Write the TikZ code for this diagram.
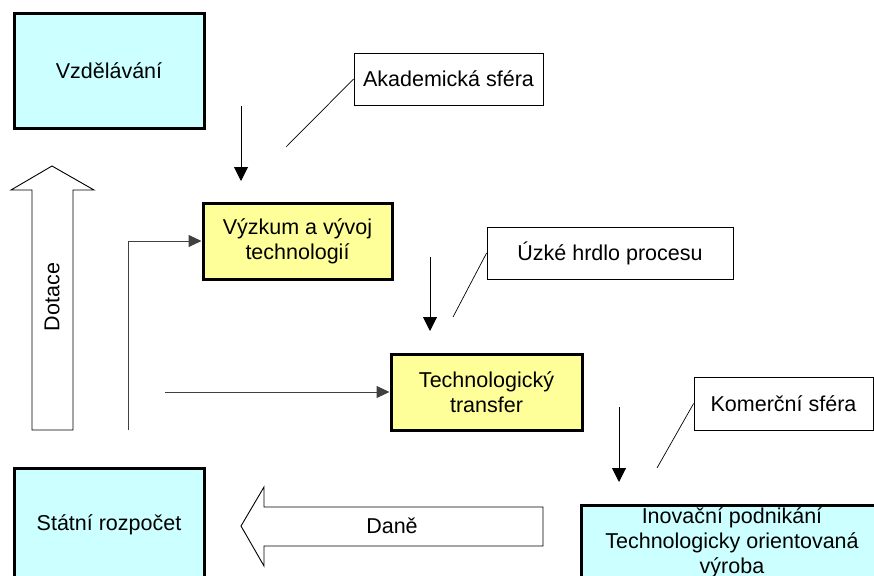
\documentclass[tikz,border=0pt]{standalone}
\usepackage{fontspec}
\setmainfont{Liberation Sans}
\usetikzlibrary{arrows.meta}
\definecolor{boxcyan}{HTML}{CCFFFF}
\definecolor{boxyellow}{HTML}{FFFF99}
\begin{document}
\begin{tikzpicture}[x=1pt,y=-1pt,
  every node/.style={font=\fontsize{21.5}{25}\selectfont, align=center, inner sep=0pt},
  mainbox/.style={draw=black, line width=3pt, rectangle},
  cyanbox/.style={mainbox, fill=boxcyan},
  yellowbox/.style={mainbox, fill=boxyellow},
  notebox/.style={draw=black, line width=0.8pt, fill=white, rectangle},
  flow/.style={line width=1pt, -{Triangle[length=14pt,width=14pt]}},
  feed/.style={line width=1pt, draw=black!75, -{Triangle[length=13pt,width=12pt]}},
  callout/.style={line width=0.7pt},
  bigarrow/.style={draw=black, line width=0.9pt, fill=white, line join=miter}
]
\useasboundingbox (0,0) rectangle (874,575);

% main boxes
\node[cyanbox, minimum width=190pt, minimum height=114pt] (vzdel) at (109,71) {Vzdělávání};
\node[yellowbox, minimum width=189pt, minimum height=76pt] (vyzkum) at (297.5,241) {Výzkum a vývoj\\technologií};
\node[yellowbox, minimum width=191pt, minimum height=76pt] (transfer) at (486.5,392) {Technologický\\transfer};
\node[cyanbox, minimum width=190pt, minimum height=114pt] (rozpocet) at (109,525) {Státní rozpočet};
\node[cyanbox, minimum width=302pt, minimum height=76pt] (inovace) at (732,543) {Inovační podnikání\\Technologicky orientovaná\\výroba};

% note boxes
\node[notebox, minimum width=189pt, minimum height=52pt] (akad) at (448.5,79) {Akademická sféra};
\node[notebox, minimum width=246pt, minimum height=52pt] (uzke) at (610,253) {Úzké hrdlo procesu};
\node[notebox, minimum width=179pt, minimum height=53pt] (komer) at (783.5,403.5) {Komerční sféra};

% block arrow: Dotace
\draw[bigarrow] (52,166) -- (94,190) -- (73,190) -- (73,430) -- (32,430) -- (32,190) -- (11,190) -- cycle;
\node[rotate=90] (dotace) at (52,297) {Dotace};

% block arrow: Daně
\draw[bigarrow] (241,526) -- (264,487) -- (264,507) -- (543,507) -- (543,546) -- (264,546) -- (264,566) -- cycle;
\node (dane) at (392,526) {Daně};

% feed lines from the Dotace side
\coordinate (feedA) at (128,430);
\coordinate (feedB) at (165,392);
\draw[feed] (feedA) |- (vyzkum.west);
\draw[feed] (feedB) -- (transfer.west);

% downward flow arrows
\coordinate (d1s) at (241,106); \coordinate (d1e) at (241,181);
\coordinate (d2s) at (430,257); \coordinate (d2e) at (430,331);
\coordinate (d3s) at (619,407); \coordinate (d3e) at (619,482);
\draw[flow] (d1s) -- (d1e);
\draw[flow] (d2s) -- (d2e);
\draw[flow] (d3s) -- (d3e);

% callout lines of the notes
\coordinate (c1) at (286,147);
\coordinate (c2) at (453,317);
\coordinate (c3) at (657,468);
\draw[callout] (c1) -- (akad.west);
\draw[callout] (c2) -- (uzke.west);
\draw[callout] (c3) -- (komer.west);
\end{tikzpicture}
\end{document}
